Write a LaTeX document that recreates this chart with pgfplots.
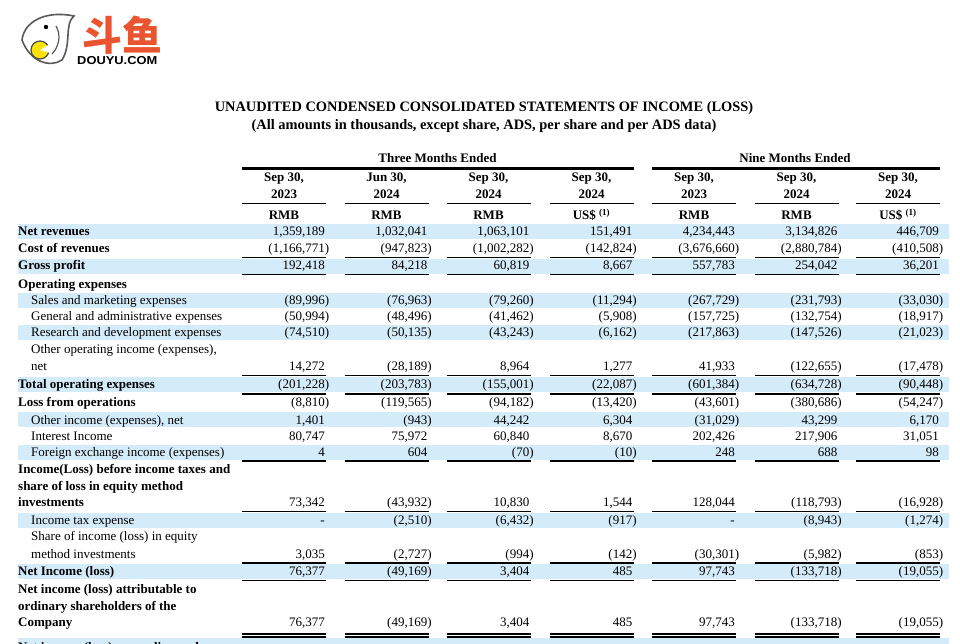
\documentclass[border=0pt]{standalone}
\usepackage{pgfplots}
\pgfplotsset{compat=1.18}
\usepackage{fontspec}
\setmainfont{Liberation Serif}
\newfontfamily\cjk{Noto Sans CJK SC}
\newfontfamily\lsans{Liberation Sans}
\definecolor{bandc}{RGB}{212,235,250}
\definecolor{logored}{RGB}{234,84,48}
\newcommand\rp{\rlap{)}}
\newcommand\V[3]{\node[anchor=base east,inner sep=0pt,yshift=-4pt] at (axis cs:#1,#2) {#3};}
\newcommand\vals[8]{\V{325}{#1}{#2}\V{427.5}{#1}{#3}\V{529.5}{#1}{#4}\V{632.5}{#1}{#5}\V{735}{#1}{#6}\V{837.5}{#1}{#7}\V{939}{#1}{#8}}
\newcommand\LB[2]{\node[anchor=base west,inner sep=0pt,yshift=-4pt,font=\bfseries] at (axis cs:18,#1) {#2};}
\newcommand\LI[2]{\node[anchor=base west,inner sep=0pt,yshift=-4pt] at (axis cs:31,#1) {#2};}
\newcommand\HD[3]{\node[anchor=base,inner sep=0pt,yshift=-4pt,font=\bfseries] at (axis cs:#1,#2) {#3};}
\newcommand\band[1]{\fill[bandc] ([yshift=7.5pt]axis cs:18,#1) rectangle ([yshift=-7.5pt]axis cs:949,#1);}
\newcommand\hl[2]{\draw[line width=#2] (axis cs:242,#1)--(axis cs:326,#1) (axis cs:344.5,#1)--(axis cs:428.5,#1) (axis cs:446.5,#1)--(axis cs:530.5,#1) (axis cs:549.5,#1)--(axis cs:633.5,#1) (axis cs:652,#1)--(axis cs:736,#1) (axis cs:754.5,#1)--(axis cs:838.5,#1) (axis cs:856,#1)--(axis cs:940,#1);}
\begin{document}
\fontsize{13}{15}\selectfont
\begin{tikzpicture}
\begin{axis}[
  width=960pt, height=644pt, scale only axis,
  xmin=0, xmax=960, ymin=0, ymax=644, y dir=reverse,
  axis lines=none, ticks=none, clip=false]
% ---- logo ----
\draw[gray!70!black, line width=1.6pt, fill=white]
  (axis cs:22,40) .. controls (axis cs:24,22) and (axis cs:45,10) .. (axis cs:74,16)
  .. controls (axis cs:64,24) and (axis cs:72,44) .. (axis cs:62,60)
  .. controls (axis cs:50,68) and (axis cs:30,62) .. (axis cs:22,40) -- cycle;
\draw[gray!70!black, line width=1.2pt] (axis cs:56,26) .. controls (axis cs:62,36) and (axis cs:58,48) .. (axis cs:52,54);
\fill[black] (axis cs:46,27) circle[radius=2.2pt];
\draw[gray!60!black, line width=1.2pt, fill=yellow!85!orange] (axis cs:40,50) circle[radius=9pt];
\fill[white] (axis cs:40,50) -- (axis cs:50,44) -- (axis cs:50,53) -- cycle;
\node[anchor=center, inner sep=0pt, text=logored, font=\cjk\bfseries\fontsize{40}{40}\selectfont] at (axis cs:122,35) {斗鱼};
\node[anchor=base west, inner sep=0pt, font=\lsans\bfseries\fontsize{11.5}{12}\selectfont, xscale=1.12] at (axis cs:77,64.5) {DOUYU.COM};
% ---- title ----
\node[anchor=base, inner sep=0pt, yshift=-5pt, font=\fontsize{14.4}{17}\selectfont\bfseries] at (axis cs:484,107) {UNAUDITED CONDENSED CONSOLIDATED STATEMENTS OF INCOME (LOSS)};
\node[anchor=base, inner sep=0pt, yshift=-5pt, font=\fontsize{14.4}{17}\selectfont\bfseries] at (axis cs:484,125) {(All amounts in thousands, except share, ADS, per share and per ADS data)};
% ---- bands ----
\band{232}\band{266}\band{300.5}\band{332.5}\band{384}\band{419.5}\band{452}\band{520}\band{571.5}
\fill[bandc] (axis cs:18,638) rectangle (axis cs:949,652);
% ---- header ----
\HD{437.5}{159}{Three Months Ended}
\HD{795}{159}{Nine Months Ended}
\draw[line width=2.7pt] (axis cs:242,168.5)--(axis cs:633.5,168.5) (axis cs:652,168.5)--(axis cs:940,168.5);
\HD{284}{178}{Sep 30,}\HD{386.5}{178}{Jun 30,}\HD{488.5}{178}{Sep 30,}\HD{591.5}{178}{Sep 30,}\HD{694}{178}{Sep 30,}\HD{796.5}{178}{Sep 30,}\HD{898}{178}{Sep 30,}
\HD{284}{195}{2023}\HD{386.5}{195}{2024}\HD{488.5}{195}{2024}\HD{591.5}{195}{2024}\HD{694}{195}{2023}\HD{796.5}{195}{2024}\HD{898}{195}{2024}
\hl{203.3}{1.3pt}
\HD{284}{216}{RMB}\HD{386.5}{216}{RMB}\HD{488.5}{216}{RMB}\HD{591.5}{216}{US\$ \textsuperscript{(1)}}\HD{694}{216}{RMB}\HD{796.5}{216}{RMB}\HD{898}{216}{US\$ \textsuperscript{(1)}}
% ---- rules ----
\hl{257.5}{1.2pt}
\hl{274.5}{1.6pt}
\hl{375.5}{1.4pt}
\hl{393.8}{2.6pt}
\hl{460.8}{2.6pt}
\hl{511.5}{1.3pt}
\hl{563}{1.4pt}
\hl{580.5}{1.4pt}
\hl{634}{1.1pt}
\hl{637}{1.1pt}
% ---- rows ----
\LB{232}{Net revenues}
\vals{232}{1,359,189}{1,032,041}{1,063,101}{151,491}{4,234,443}{3,134,826}{446,709}
\LB{248.7}{Cost of revenues}
\vals{248.7}{(1,166,771\rp}{(947,823\rp}{(1,002,282\rp}{(142,824\rp}{(3,676,660\rp}{(2,880,784\rp}{(410,508\rp}
\LB{265.7}{Gross profit}
\vals{265.7}{192,418}{84,218}{60,819}{8,667}{557,783}{254,042}{36,201}
\LB{284}{Operating expenses}
\LI{300.7}{Sales and marketing expenses}
\vals{300.7}{(89,996\rp}{(76,963\rp}{(79,260\rp}{(11,294\rp}{(267,729\rp}{(231,793\rp}{(33,030\rp}
\LI{316.7}{General and administrative expenses}
\vals{316.7}{(50,994\rp}{(48,496\rp}{(41,462\rp}{(5,908\rp}{(157,725\rp}{(132,754\rp}{(18,917\rp}
\LI{332.7}{Research and development expenses}
\vals{332.7}{(74,510\rp}{(50,135\rp}{(43,243\rp}{(6,162\rp}{(217,863\rp}{(147,526\rp}{(21,023\rp}
\LI{349.5}{Other operating income (expenses),}
\LI{366.7}{net}
\vals{366.7}{14,272}{(28,189\rp}{8,964}{1,277}{41,933}{(122,655\rp}{(17,478\rp}
\LB{384}{Total operating expenses}
\vals{384}{(201,228\rp}{(203,783\rp}{(155,001\rp}{(22,087\rp}{(601,384\rp}{(634,728\rp}{(90,448\rp}
\LB{402.5}{Loss from operations}
\vals{402.5}{(8,810\rp}{(119,565\rp}{(94,182\rp}{(13,420\rp}{(43,601\rp}{(380,686\rp}{(54,247\rp}
\LI{420}{Other income (expenses), net}
\vals{420}{1,401}{(943\rp}{44,242}{6,304}{(31,029\rp}{43,299}{6,170}
\LI{436}{Interest Income}
\vals{436}{80,747}{75,972}{60,840}{8,670}{202,426}{217,906}{31,051}
\LI{452.5}{Foreign exchange income (expenses)}
\vals{452.5}{4}{604}{(70\rp}{(10\rp}{248}{688}{98}
\LB{469}{Income(Loss) before income taxes and}
\LB{486}{share of loss in equity method}
\LB{502.7}{investments}
\vals{502.7}{73,342}{(43,932\rp}{10,830}{1,544}{128,044}{(118,793\rp}{(16,928\rp}
\LI{520}{Income tax expense}
\vals{520}{-}{(2,510\rp}{(6,432\rp}{(917\rp}{-}{(8,943\rp}{(1,274\rp}
\LI{536.7}{Share of income (loss) in equity}
\LI{554}{method investments}
\vals{554}{3,035}{(2,727\rp}{(994\rp}{(142\rp}{(30,301\rp}{(5,982\rp}{(853\rp}
\LB{571.7}{Net Income (loss)}
\vals{571.7}{76,377}{(49,169\rp}{3,404}{485}{97,743}{(133,718\rp}{(19,055\rp}
\LB{589}{Net income (loss) attributable to}
\LB{606}{ordinary shareholders of the}
\LB{622.7}{Company}
\vals{622.7}{76,377}{(49,169\rp}{3,404}{485}{97,743}{(133,718\rp}{(19,055\rp}
\LB{647}{Net income (loss) per ordinary share}
\end{axis}
\pgfresetboundingbox
\path (current axis.south west) rectangle (current axis.north east);
\end{tikzpicture}
\end{document}
